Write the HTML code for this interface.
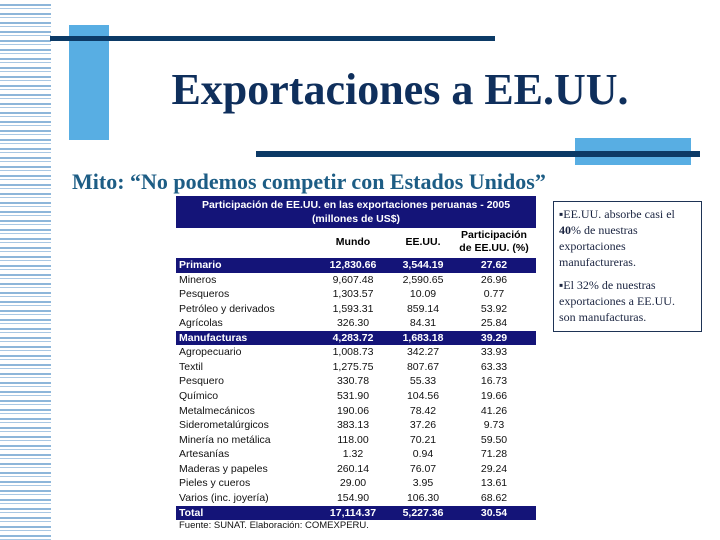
<!DOCTYPE html>
<html><head><meta charset="utf-8">
<style>
body{margin:0;width:720px;height:540px;position:relative;background:#fff;overflow:hidden;font-family:"Liberation Sans",sans-serif}
.abs{position:absolute}
#stripes{left:0;top:0;width:51px;height:540px;background:repeating-linear-gradient(to bottom,#fff 0,#fff 4px,#8db6da 4px,#8db6da 6px,#fff 6px,#fff 8px,#a9c8e4 8px,#a9c8e4 9px)}
.row{position:absolute;left:176px;width:360px;height:14.6px;font-size:10.5px;line-height:14.6px;color:#111}
.row.hl{background:#141478;color:#fff;font-weight:bold}
.row span{position:absolute;top:0}
.c0{left:3px}
.c1{left:318px;transform:translateX(-50%)}
.c2{left:247px;transform:translateX(-50%)}
.c3{left:177px;transform:translateX(-50%)}
</style></head><body>
<div id="stripes" class="abs"></div>
<div class="abs" style="left:69px;top:25px;width:40px;height:115px;background:#58aee3"></div>
<div class="abs" style="left:50px;top:36px;width:445px;height:5px;background:#0c3a66"></div>
<div class="abs" style="left:575px;top:138px;width:116px;height:27px;background:#58aee3"></div>
<div class="abs" style="left:256px;top:151px;width:444px;height:6px;background:#0c3a66"></div>
<div class="abs" style="left:100px;top:64px;width:600px;text-align:center;font-family:'Liberation Serif',serif;font-weight:bold;font-size:44px;color:#0f2f5c">Exportaciones a EE.UU.</div>
<div class="abs" style="left:72px;top:169px;font-family:'Liberation Serif',serif;font-weight:bold;font-size:22px;color:#1d5d85;white-space:nowrap">Mito: “No podemos competir con Estados Unidos”</div>
<div class="abs" style="left:553px;top:201px;width:142px;height:125px;border:1.5px solid #1e3355;padding:4px 0 0 5px;font-family:'Liberation Serif',serif;font-size:12px;line-height:16px;color:#1a2440">
<div>▪EE.UU. absorbe casi el<br><b>40</b>% de nuestras<br>exportaciones<br>manufactureras.</div>
<div style="margin-top:7px">▪El 32% de nuestras<br>exportaciones a EE.UU.<br>son manufacturas.</div>
</div>
<div class="abs" style="left:176px;top:196px;width:360px;height:32px;background:#141478;color:#fff;font-weight:bold;font-size:10.5px;line-height:14px;text-align:center;padding-top:2px;box-sizing:border-box">Participación de EE.UU. en las exportaciones peruanas - 2005<br>(millones de US$)</div>
<div class="abs" style="left:323px;top:236px;width:60px;text-align:center;font-weight:bold;font-size:10.5px">Mundo</div>
<div class="abs" style="left:393px;top:236px;width:60px;text-align:center;font-weight:bold;font-size:10.5px">EE.UU.</div>
<div class="abs" style="left:453px;top:229px;width:82px;text-align:center;font-weight:bold;font-size:10.5px;line-height:13px">Participación<br>de EE.UU. (%)</div>
<div id="tbl"></div>
<div class="abs" style="left:179px;top:520px;font-size:9.5px;color:#111">Fuente: SUNAT. Elaboración: COMEXPERU.</div>
<script>
const labels=["Primario","Mineros","Pesqueros","Petróleo y derivados","Agrícolas","Manufacturas","Agropecuario","Textil","Pesquero","Químico","Metalmecánicos","Siderometalúrgicos","Minería no metálica","Artesanías","Maderas y papeles","Pieles y cueros","Varios (inc. joyería)","Total"];
const mundo=["12,830.66","9,607.48","1,303.57","1,593.31","326.30","4,283.72","1,008.73","1,275.75","330.78","531.90","190.06","383.13","118.00","1.32","260.14","29.00","154.90","17,114.37"];
const eeuu=["3,544.19","2,590.65","10.09","859.14","84.31","1,683.18","342.27","807.67","55.33","104.56","78.42","37.26","70.21","0.94","76.07","3.95","106.30","5,227.36"];
const part=["27.62","26.96","0.77","53.92","25.84","39.29","33.93","63.33","16.73","19.66","41.26","9.73","59.50","71.28","29.24","13.61","68.62","30.54"];
const hl=[0,5,17];
const tbl=document.getElementById('tbl');
labels.forEach((l,i)=>{
 const r=document.createElement('div');
 r.className='row'+(hl.includes(i)?' hl':'');
 r.style.top=(258+i*14.56)+'px';
 
 
 r.innerHTML='<span class="c0">'+l+'</span><span class="c3">'+mundo[i]+'</span><span class="c2">'+eeuu[i]+'</span><span class="c1">'+part[i]+'</span>';
 tbl.appendChild(r);
});
</script>
</body></html>
